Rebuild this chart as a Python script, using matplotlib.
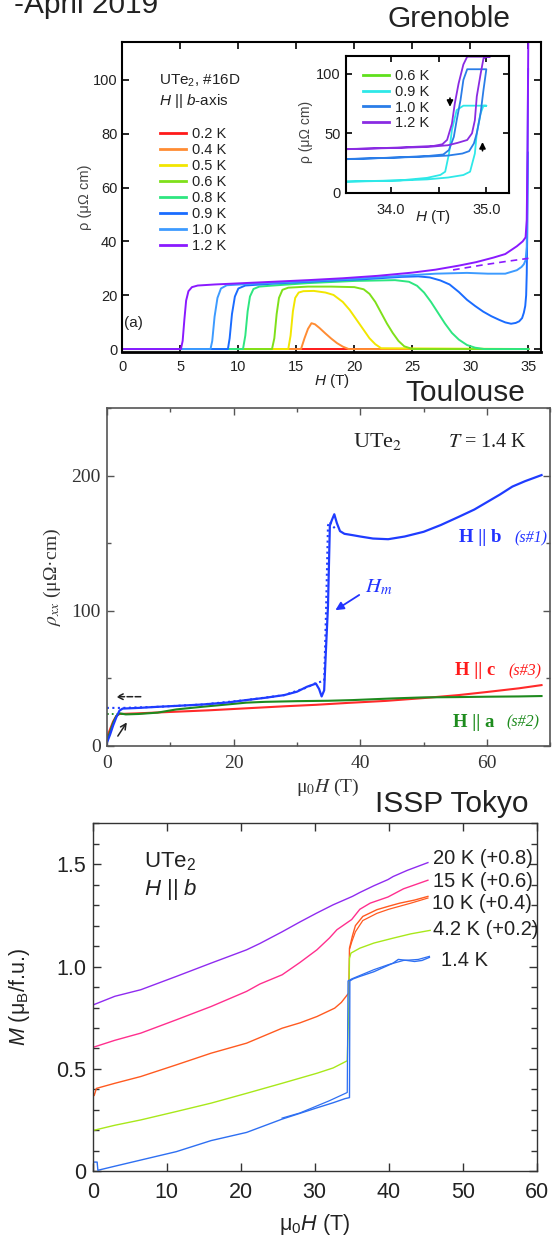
import matplotlib.pyplot as plt
from matplotlib.lines import Line2D
from matplotlib.ticker import MultipleLocator

plt.rcParams['font.family'] = ['Liberation Sans', 'DejaVu Sans']
plt.rcParams['mathtext.fontset'] = 'custom'
plt.rcParams['mathtext.rm'] = 'Liberation Sans'
plt.rcParams['mathtext.it'] = 'Liberation Sans:italic'
plt.rcParams['mathtext.bf'] = 'Liberation Sans:bold'
SERIF = ['Liberation Serif', 'DejaVu Serif']

# ---------------- Grenoble: rho(H), UTe2 #16D, H || b ----------------
gre_labels = ['0.2 K', '0.4 K', '0.5 K', '0.6 K', '0.8 K', '0.9 K', '1.0 K', '1.2 K']
gre_colors = ['#ff1a1a', '#ff8c33', '#f2e600', '#7fe01a', '#2ee680', '#1a6cff', '#3d9bff', '#8a1aff']

h_02 = [0, 35]
r_02 = [0, 0]
h_04 = [0, 15.4, 15.7, 16.0, 16.3, 16.6, 17.0, 17.5, 18.0, 18.5, 19.0, 19.5, 35]
r_04 = [0, 0, 4, 7.5, 9.6, 9.2, 7.8, 5.8, 3.9, 2.2, 0.9, 0, 0]
h_05 = [0, 14.3, 14.5, 14.7, 14.9, 15.2, 15.6, 16.5, 17.5, 18.2, 19.0, 19.6, 20.2, 20.8, 21.3, 21.8, 22.3, 35]
r_05 = [0, 0, 5, 14, 19, 21, 21.5, 21.6, 21.0, 20.1, 17.5, 14.5, 10.8, 7.1, 4.0, 1.8, 0.3, 0]
h_06 = [0, 12.9, 13.1, 13.3, 13.5, 13.8, 14.3, 16, 18, 20.0, 20.8, 21.3, 21.8, 22.3, 22.8, 23.3, 23.8, 24.3, 25.0, 35]
r_06 = [0, 0, 4, 13, 19, 22, 22.8, 23.2, 23.2, 23.0, 22.2, 20.5, 17.5, 13.5, 9.5, 6.0, 3.0, 1.0, 0, 0]
h_08 = [0, 10.4, 10.6, 10.8, 11.0, 11.3, 11.8, 13, 16, 20, 23.5, 24.7, 25.4, 26.0, 26.6, 27.2, 27.8,
        28.4, 29.0, 29.7, 30.4, 31.2, 35]
r_08 = [0, 0, 5, 14, 19.5, 22.3, 23.2, 23.6, 24.5, 25.3, 25.6, 25.0, 23.5, 21, 17.5, 13.5, 9.5,
        6, 3.5, 1.5, 0.5, 0, 0]
h_09 = [0, 9.1, 9.25, 9.45, 9.7, 10.0, 10.6, 13, 17, 21, 24, 25.5, 26.5, 27.4, 28.2, 29.0, 29.7,
        30.4, 31.1, 31.8, 32.5, 33.0, 33.5, 33.9, 34.2, 34.45, 34.6, 34.72, 34.8, 34.85, 34.9, 34.95]
r_09 = [0, 0, 4, 13, 19.5, 22.5, 23.6, 24.3, 25.2, 26, 26.8, 27, 26.6, 25.5, 24, 21.2, 18.3,
        16, 13.9, 12.2, 10.8, 9.9, 9.4, 9.7, 10.3, 11.5, 13.5, 16, 20, 28, 45, 73]
h_10 = [0, 7.6, 7.75, 7.95, 8.2, 8.5, 9.0, 11, 15, 20, 24, 27, 29.7, 31.5, 33, 34.0, 34.4, 34.6,
        34.75, 34.85, 34.92, 34.97]
r_10 = [0, 0, 3, 12, 19, 22.5, 23.7, 24.2, 25, 26.1, 27.2, 28, 28.3, 28, 28, 29.3, 30.5, 31.5,
        33, 38, 70, 104]
h_12 = [0, 5.05, 5.2, 5.35, 5.5, 5.7, 6.0, 6.5, 8, 10, 13, 16, 19, 22, 25, 27, 29, 30.5, 32, 33,
        34, 34.5, 34.75, 34.85, 34.92, 35.0]
r_12 = [0, 0, 3, 11, 18, 21.5, 23, 23.6, 24, 24.4, 25, 25.6, 26.3, 27.2, 28.4, 29.5, 31, 32.3, 34,
        35.3, 38.2, 40, 41.5, 48, 75, 125]
h_12_normal = [28.5, 31, 33, 35]
r_12_normal = [29.4, 31.2, 32.5, 33.7]

gre_h = [h_02, h_04, h_05, h_06, h_08, h_09, h_10, h_12]
gre_r = [r_02, r_04, r_05, r_06, r_08, r_09, r_10, r_12]

# inset: hysteresis loops near 35 T
ins_labels = ['0.6 K', '0.9 K', '1.0 K', '1.2 K']
ins_colors = ['#5fe01c', '#2ee8e8', '#2a7de8', '#8a2be2']
ins_h_06 = [33.53, 35.0]
ins_r_06 = [0, 0]
ins_h_09 = [33.53, 33.8, 34.1, 34.38, 34.6, 34.76, 34.83, 34.88, 34.9, 34.94, 34.97, 35.0, 34.76,
            34.69, 34.64, 34.61, 34.57, 34.52, 34.38, 34.1, 33.53]
ins_r_09 = [9.3, 9.7, 10.3, 11.2, 12.8, 14.9, 17.7, 33, 50, 66.8, 73.3, 73.3, 73.3,
            69.6, 52.8, 33, 17.7, 15, 12.5, 10.4, 9.4]
ins_h_10 = [33.53, 33.8, 34.1, 34.4, 34.6, 34.75, 34.82, 34.87, 34.9, 34.94, 34.97, 35.0, 34.8,
            34.76, 34.73, 34.69, 34.66, 34.61, 34.55, 34.4, 34.1, 33.53]
ins_r_10 = [28.4, 28.9, 29.7, 30.5, 31.3, 33, 35, 41.5, 50, 67, 86.5, 104, 104,
            95, 78, 61, 47, 36, 32.2, 31, 29.8, 28.2]
ins_h_12 = [33.53, 33.8, 34.1, 34.4, 34.6, 34.7, 34.8, 34.85, 34.88, 34.9, 34.94, 34.97, 35.0,
            35.04, 34.8, 34.76, 34.71, 34.67, 34.64, 34.59, 34.54, 34.45, 34.1, 33.53]
ins_r_12 = [36.8, 37.2, 37.8, 38.6, 40.0, 42.0, 44.4, 50, 61, 81, 100, 113, 114.5,
            114.6, 114.6, 108, 92, 75, 58, 44.5, 40.8, 39.4, 38.1, 36.6]
ins_h = [ins_h_06, ins_h_09, ins_h_10, ins_h_12]
ins_r = [ins_r_06, ins_r_09, ins_r_10, ins_r_12]

# ---------------- Toulouse: rho_xx(mu0H), T = 1.4 K ----------------
tou_h_b = [0, 0.5, 1.0, 1.5, 2.0, 2.5, 5, 8, 11, 15, 19, 22, 25, 28, 30, 31.6, 33.0, 33.5, 33.9,
           34.3, 34.6, 34.9, 35.2, 35.5, 35.9, 36.3, 36.8, 37.5, 38.8, 40, 42, 44.4, 47, 50, 52.7,
           55.5, 58, 60, 62, 64, 66, 68.6]
tou_r_b = [2, 8, 15, 21, 26, 27.5, 28, 28.8, 29.5, 30.5, 32, 33.8, 35.5, 37.5, 40, 43.7, 46, 42, 36.5,
           41, 73, 103, 163, 167, 171.5, 165, 159, 157, 156, 155, 153.5, 153, 155, 158.5, 163.5,
           169.5, 175, 180.5, 186, 192, 196, 200.5]
tou_h_b_fit = [0, 2.5, 8, 15, 22, 28, 31.5, 33, 34.3, 34.6, 34.9, 35.1, 36]
tou_r_b_fit = [28, 28, 28.8, 30.5, 33.8, 37.5, 43, 46.5, 48, 100, 163, 166, 161]
tou_h_c = [0, 0.5, 1.0, 1.5, 2.0, 5, 11, 16, 22, 28, 33, 38, 44, 50, 55.5, 60, 65, 68.6]
tou_r_c = [6, 12, 18, 22, 23.5, 24, 25.2, 26.2, 27.7, 29.2, 30.3, 31.7, 33.2, 35.3, 37.5, 39.8, 42.5, 44.9]
tou_h_a = [0, 0.5, 1.0, 1.5, 2.0, 3.0, 5, 8, 11, 15, 20, 22, 25, 30, 35, 38.8, 45, 50, 55, 60, 65, 68.6]
tou_r_a = [3, 10, 17, 22, 24, 23.2, 23.5, 24.5, 26.9, 28.8, 31, 31.9, 32.5, 33, 33.3, 33.8, 35, 35.8,
           36, 36.3, 36.5, 36.8]
tou_h_a_fit = [0, 3]
tou_r_a_fit = [23.5, 23.5]

# ---------------- ISSP Tokyo: M(mu0H), H || b ----------------
iss_labels = ['20 K (+0.8)', '15 K (+0.6)', '10 K (+0.4)', '4.2 K (+0.2)', '1.4 K']
iss_colors = ['#8f2bf0', '#ff2f8e', '#ff5a20', '#a8e81a', '#2e6ff2']
m_h_20 = [0, 3, 6.5, 11.3, 16, 20.8, 22.6, 25.6, 28, 30.3, 32.5, 35.1, 36.1, 38, 39.9, 40.6, 42.5, 45.3]
m_v_20 = [0.812, 0.855, 0.887, 0.952, 1.017, 1.082, 1.113, 1.17, 1.218, 1.262, 1.302, 1.343, 1.362,
          1.395, 1.425, 1.44, 1.47, 1.508]
m_h_15 = [0, 3, 6.5, 11.3, 16, 20.8, 22.6, 25.6, 28, 30.3, 32, 33, 34, 35, 36.1, 37.5, 39.9, 42, 45.3]
m_v_15 = [0.605, 0.64, 0.675, 0.74, 0.805, 0.879, 0.915, 0.96, 1.02, 1.082, 1.14, 1.18, 1.205, 1.23,
          1.28, 1.31, 1.34, 1.38, 1.422]
m_h_10 = [0, 0.2, 0.5, 3, 6.5, 11.3, 16, 20.8, 25.6, 28, 30.3, 32.7, 33.6, 34.4, 34.6, 34.7, 35.1,
          35.5, 36.5, 38.4, 40, 41.5, 43.5, 45.3]
m_v_10 = [0.39, 0.37, 0.405, 0.43, 0.463, 0.52, 0.577, 0.626, 0.699, 0.725, 0.756, 0.797, 0.825,
          0.862, 0.87, 1.09, 1.15, 1.2, 1.245, 1.278, 1.295, 1.31, 1.325, 1.343]
m_h_10_down = [45.3, 43, 40, 38.4, 36.5, 35.5, 35.0, 34.75]
m_v_10_down = [1.335, 1.31, 1.28, 1.26, 1.225, 1.17, 1.12, 1.09]
m_h_42 = [0, 3, 6.5, 11.3, 16, 20.8, 25.6, 30.3, 32.5, 34.4, 34.6, 34.7, 34.9, 36.1, 38, 40.6, 43, 45.6]
m_v_42 = [0.199, 0.225, 0.251, 0.292, 0.333, 0.381, 0.43, 0.479, 0.505, 0.54, 0.8, 1.04, 1.066,
          1.09, 1.115, 1.139, 1.16, 1.177]
m_h_14 = [0, 0.1, 0.6, 0.7, 3, 6.5, 11.3, 16, 20.8, 25.6, 30.3, 32.5, 34.1, 34.7, 34.75, 35.2, 36.1,
          38, 40.6, 41.3, 42.5, 43.5, 44.5, 45.5]
m_v_14 = [0.0, 0.045, 0.045, 0.005, 0.025, 0.055, 0.096, 0.15, 0.19, 0.255, 0.31, 0.335, 0.355, 0.36,
          0.93, 0.94, 0.952, 0.975, 1.017, 1.035, 1.03, 1.025, 1.03, 1.045]
m_h_14_down = [45.5, 44.0, 42.0, 40.0, 38, 36, 35.0, 34.5, 34.4, 33.5, 32, 30, 28, 25.6]
m_v_14_down = [1.05, 1.035, 1.03, 1.01, 0.985, 0.955, 0.94, 0.93, 0.385, 0.37, 0.345, 0.315, 0.285, 0.26]
iss_h = [m_h_20, m_h_15, m_h_10, m_h_42, m_h_14]
iss_v = [m_v_20, m_v_15, m_v_10, m_v_42, m_v_14]

W, H = 552, 1242


def rect(left, top, right, bottom):
    return [left / W, 1 - bottom / H, (right - left) / W, (bottom - top) / H]


fig = plt.figure(figsize=(5.52, 12.42), dpi=100)
fig.patch.set_facecolor('white')

head = dict(fontsize=21.5, color='#222', va='baseline')
fig.text(158.6 / W, 1 - 13.3 / H, '-April 2019', ha='right', **head)
fig.text(387.6 / W, 1 - 27.3 / H, 'Grenoble', ha='left', **head)
fig.text(405.2 / W, 1 - 401 / H, 'Toulouse', ha='left', **head)
fig.text(375.3 / W, 1 - 811.7 / H, 'ISSP Tokyo', ha='left', **head)

# ---- panel 1: Grenoble ----
ax1 = fig.add_axes(rect(122.3, 41.7, 540.9, 352))
for h, r, c in zip(gre_h, gre_r, gre_colors):
    ax1.plot(h, r, color=c, lw=1.4)
ax1.plot(h_12_normal, r_12_normal, color=gre_colors[-1], lw=1.2, ls=(0, (4, 3)))
ax1.set_xlim(0, 36.07)
ax1.set_ylim(-1.1, 114.2)
ax1.xaxis.set_major_locator(MultipleLocator(5))
ax1.yaxis.set_major_locator(MultipleLocator(20))
ax1.tick_params(direction='in', top=True, right=True, length=5, width=1.2,
                labelsize=10.5, labelcolor='#222')
ax1.tick_params(axis='x', pad=6)
ax1.tick_params(axis='y', pad=3.5)
for s in ax1.spines.values():
    s.set_linewidth(1.5)
ax1.spines['bottom'].set_linewidth(2)
ax1.set_xlabel('$H$ (T)', fontsize=11, color='#222', va='center')
ax1.xaxis.set_label_coords(0.501, -0.0935)
ax1.set_ylabel('ρ (μΩ cm)', fontsize=10.5, color='#444', va='center')
ax1.yaxis.set_label_coords(-0.090, 0.50)
ax1.text(3.19, 99.7, 'UTe$_2$, #16D', fontsize=11, va='center', color='#222')
ax1.text(3.19, 92.3, '$H$ || $b$-axis', fontsize=11, va='center', color='#222')
ax1.text(1.0, 9.8, '(a)', fontsize=11, ha='center', va='center', color='#222')
handles = [Line2D([], [], color=c, lw=2) for c in gre_colors]
ax1.legend(handles, gre_labels, loc='upper left', bbox_to_anchor=(0.0908, 0.7235),
           frameon=False, fontsize=10.5, handlelength=1.75, handletextpad=0.45,
           labelspacing=0.13, borderpad=0, borderaxespad=0, labelcolor='#222')

# inset
axi = fig.add_axes(rect(345.7, 55.7, 509.3, 193.3))
axi.set_facecolor('white')
for h, r, c in zip(ins_h, ins_r, ins_colors):
    axi.plot(h, r, color=c, lw=1.3)
axi.set_xlim(33.53, 35.24)
axi.set_ylim(-0.5, 115.4)
axi.set_xticks([34.0, 35.0], ['34.0', '35.0'])
axi.set_xticks([34.5], minor=True)
axi.set_yticks([0, 50, 100])
axi.tick_params(which='both', direction='in', top=True, right=True, length=4.5, width=1.2,
                labelsize=10.5, labelcolor='#222')
axi.tick_params(axis='x', pad=7)
axi.tick_params(axis='y', pad=3.5)
for s in axi.spines.values():
    s.set_linewidth(1.5)
axi.set_xlabel('$H$ (T)', fontsize=11, color='#222', va='center')
axi.xaxis.set_label_coords(0.534, -0.170)
axi.set_ylabel('ρ (μΩ cm)', fontsize=10, color='#444', va='center')
axi.yaxis.set_label_coords(-0.243, 0.448)
ihandles = [Line2D([], [], color=c, lw=2) for c in ins_colors]
axi.legend(ihandles, ins_labels, loc='upper left', bbox_to_anchor=(0.1076, 0.905),
           frameon=False, fontsize=10.5, handlelength=1.75, handletextpad=0.45,
           labelspacing=0.13, borderpad=0, borderaxespad=0, labelcolor='#222')
axi.annotate('', xy=(34.62, 70), xytext=(34.62, 82),
             arrowprops=dict(arrowstyle='-|>', color='k', lw=1.2, mutation_scale=9))
axi.annotate('', xy=(34.96, 45), xytext=(34.96, 33),
             arrowprops=dict(arrowstyle='-|>', color='k', lw=1.2, mutation_scale=9))

# ---- panel 2: Toulouse ----
ax2 = fig.add_axes(rect(106.8, 408.3, 550.4, 745.7))
ax2.plot(tou_h_c, tou_r_c, color='#ff2a2a', lw=1.5)
ax2.plot(tou_h_a, tou_r_a, color='#1e8a1e', lw=1.5)
ax2.plot(tou_h_a_fit, tou_r_a_fit, color='#1e8a1e', lw=1.3, ls=':')
ax2.plot(tou_h_b, tou_r_b, color='#1f3cff', lw=1.6)
ax2.plot(tou_h_b_fit, tou_r_b_fit, color='#1f3cff', lw=1.5, ls=':')
ax2.set_xlim(0, 70)
ax2.set_ylim(0, 250)
ax2.xaxis.set_major_locator(MultipleLocator(20))
ax2.xaxis.set_minor_locator(MultipleLocator(10))
ax2.yaxis.set_major_locator(MultipleLocator(100))
ax2.yaxis.set_minor_locator(MultipleLocator(50))
ax2.tick_params(which='both', direction='in', top=True, right=True, width=1.0, color='#555',
                labelsize=14, labelcolor='#333', labelfontfamily='Liberation Serif')
ax2.tick_params(which='major', length=5)
ax2.tick_params(which='minor', length=3)
ax2.tick_params(axis='x', pad=6.5)
ax2.tick_params(axis='y', pad=4.5)
for s in ax2.spines.values():
    s.set_linewidth(1.2)
    s.set_color('#555')
ax2.set_xlabel('μ$_0$$H$ (T)', fontsize=14, color='#333', family=SERIF,
               math_fontfamily='stix', va='center')
ax2.xaxis.set_label_coords(0.498, -0.125)
ax2.set_ylabel(r'$\rho_{xx}$ (μΩ·cm)', fontsize=14, color='#333', family=SERIF,
               math_fontfamily='stix', va='center')
ax2.yaxis.set_label_coords(-0.1215, 0.501)
ax2.text(38.8, 221.5, 'UTe$_2$', fontsize=16, family=SERIF, math_fontfamily='stix',
         color='#222', va='baseline')
ax2.text(53.8, 221.5, '$T$ = 1.4 K', fontsize=14.5, family=SERIF, math_fontfamily='stix',
         color='#222', va='baseline')
ax2.text(55.5, 151, 'H || b', fontsize=13.5, family=SERIF, weight='bold', color='#2233ff', va='baseline')
ax2.text(64.4, 151, '(s#1)', fontsize=11.5, family=SERIF, style='italic', color='#2233ff', va='baseline')
ax2.text(55.0, 52.3, 'H || c', fontsize=13.5, family=SERIF, weight='bold', color='#ff1a1a', va='baseline')
ax2.text(63.3, 52.3, '(s#3)', fontsize=11.5, family=SERIF, style='italic', color='#ff1a1a', va='baseline')
ax2.text(54.7, 14.1, 'H || a', fontsize=13.5, family=SERIF, weight='bold', color='#1e8c1e', va='baseline')
ax2.text(63.0, 14.1, '(s#2)', fontsize=11.5, family=SERIF, style='italic', color='#1e8c1e', va='baseline')
ax2.text(40.8, 114, '$H_m$', fontsize=15, family=SERIF, math_fontfamily='stix',
         color='#2233ff', va='baseline')
ax2.annotate('', xy=(35.7, 99.3), xytext=(40.2, 112.8),
             arrowprops=dict(arrowstyle='-|>', color='#2233ff', lw=1.3, mutation_scale=12))
ax2.annotate('', xy=(1.0, 36.3), xytext=(5.8, 36.3),
             arrowprops=dict(arrowstyle='->', color='#222', lw=1.1, ls='--', mutation_scale=10))
ax2.annotate('', xy=(3.4, 19), xytext=(1.5, 5.4),
             arrowprops=dict(arrowstyle='->', color='#222', lw=1.1, mutation_scale=10))

# ---- panel 3: ISSP Tokyo ----
ax3 = fig.add_axes(rect(92.7, 823.3, 536.7, 1171.3))
for h, v, c in zip(iss_h, iss_v, iss_colors):
    ax3.plot(h, v, color=c, lw=1.0)
ax3.plot(m_h_10_down, m_v_10_down, color=iss_colors[2], lw=0.9)
ax3.plot(m_h_14_down, m_v_14_down, color=iss_colors[4], lw=0.9)
ax3.set_xlim(0, 60)
ax3.set_ylim(0, 1.7)
ax3.xaxis.set_major_locator(MultipleLocator(10))
ax3.set_yticks([0, 0.5, 1.0, 1.5], ['0', '0.5', '1.0', '1.5'])
ax3.yaxis.set_minor_locator(MultipleLocator(0.1))
ax3.tick_params(which='both', direction='in', top=True, right=True, width=1.0, color='#333',
                labelsize=15.5, labelcolor='#222')
ax3.tick_params(which='major', length=6)
ax3.tick_params(which='minor', length=4)
ax3.tick_params(axis='x', pad=7.5)
ax3.tick_params(axis='y', pad=4.5)
for s in ax3.spines.values():
    s.set_linewidth(1.0)
    s.set_color('#333')
ax3.set_xlabel('μ$_0$$H$ (T)', fontsize=15.5, color='#222', va='center')
ax3.xaxis.set_label_coords(0.5007, -0.154)
ax3.set_ylabel('$M$ (μ$_\\mathrm{B}$/f.u.)', fontsize=15.5, color='#222', va='center')
ax3.yaxis.set_label_coords(-0.165, 0.502)
ax3.text(7.0, 1.514, 'UTe$_2$', fontsize=16, va='center', color='#222')
ax3.text(7.0, 1.379, '$H$ || $b$', fontsize=16, va='center', color='#222')
label_pos = [(46.0, 1.526), (46.0, 1.416), (45.8, 1.307), (46.0, 1.18), (47.0, 1.03)]
for lab, (x, y) in zip(iss_labels, label_pos):
    ax3.text(x, y, lab, fontsize=14.5, va='center', color='#222')

fig.savefig('out.png', dpi=100)
